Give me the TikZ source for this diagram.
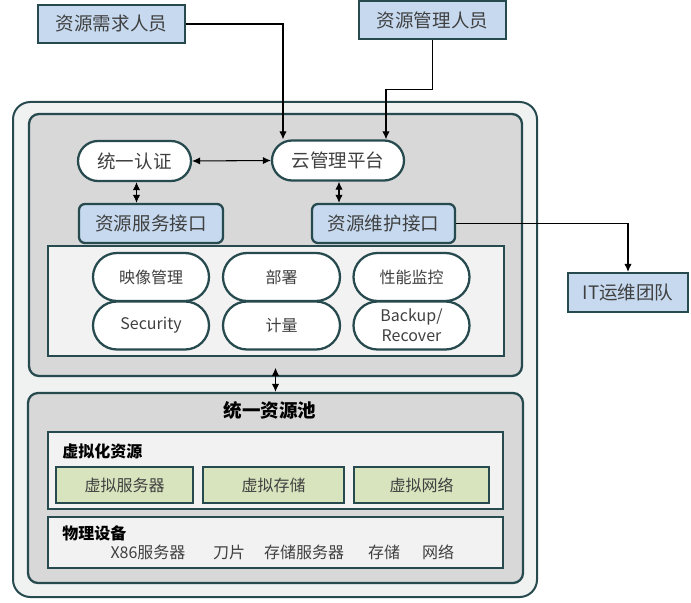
\documentclass[tikz,border=0pt]{standalone}
\usepackage{fontspec}
\setmainfont{Noto Sans CJK SC}
\usetikzlibrary{arrows.meta,shapes.misc}
\definecolor{bd}{HTML}{264A4E}
\definecolor{outerfill}{HTML}{F0F2F2}
\definecolor{panelfill}{HTML}{D8D8D8}
\definecolor{innerfill}{HTML}{F2F2F2}
\definecolor{bluefill}{HTML}{C6D9EF}
\definecolor{greenfill}{HTML}{D8E4BD}
\definecolor{txt}{HTML}{404040}
\begin{document}
\begin{tikzpicture}[x=0.75pt,y=-0.75pt,
  wh/.style 2 args={minimum width=#1*0.75pt, minimum height=#2*0.75pt},
  big/.style={font=\fontsize{13.9pt}{16pt}\selectfont},
  small/.style={font=\fontsize{12pt}{15pt}\selectfont},
  bluebox/.style={draw=bd, line width=1.7pt, fill=bluefill, inner sep=0pt, text=txt, big},
  bluerbox/.style={bluebox, rounded corners=4.5pt},
  pill/.style={draw=bd, line width=1.7pt, fill=white, rounded rectangle, inner sep=0pt, text=txt},
  panel/.style={draw=bd, line width=1.7pt, fill=panelfill, rounded corners=7.5pt, inner sep=0pt},
  inner/.style={draw=bd, line width=1.7pt, fill=innerfill, inner sep=0pt},
  greenbox/.style={draw=bd, line width=1.7pt, fill=greenfill, inner sep=0pt, text=txt, small},
  arr/.style={-{Latex[length=6pt,width=5.5pt]}, line width=0.8pt},
  darr/.style={{Latex[length=6pt,width=5.5pt]}-{Latex[length=6pt,width=5.5pt]}, line width=0.8pt},
  lbl/.style={small, text=txt, inner sep=0pt}
]
\useasboundingbox (0,0) rectangle (691,602);

% containers
\node[draw=bd, line width=1.5pt, fill=outerfill, rounded corners=13pt, wh={524}{495}, inner sep=0pt] (outer) at (275,349.5) {};
\node[panel, wh={493}{262}] (upper) at (275.5,245) {};
\node[inner, wh={456}{110}] (innerp) at (276,301) {};
\node[panel, wh={495}{190}] (lower) at (275.5,488) {};
\node[inner, wh={455}{77}] (virt) at (275.5,470.5) {};
\node[inner, wh={455}{51}] (phys) at (275.5,542.5) {};

% top actors
\node[bluebox, wh={147}{38}] (req) at (111.5,24) {资源需求人员};
\node[bluebox, wh={147}{38}] (mgr) at (432.5,20) {资源管理人员};
\node[bluebox, wh={120}{39}] (it) at (628,292.5) {IT运维团队};

% upper panel content
\node[pill, big, wh={113}{40}] (auth) at (134.5,161) {统一认证};
\node[pill, big, wh={132}{40}] (cmp) at (338,160.5) {云管理平台};
\node[bluerbox, wh={144}{39}] (svc) at (151,223.5) {资源服务接口};
\node[bluerbox, wh={143}{39}] (mnt) at (383.5,223.5) {资源维护接口};

\node[pill, small, wh={116}{48}] (p11) at (151,277) {映像管理};
\node[pill, small, wh={117}{48}] (p12) at (281.5,277) {部署};
\node[pill, small, wh={116}{48}] (p13) at (411.5,277) {性能监控};
\node[pill, small, wh={116}{48}] (p21) at (151,325.5) {Security};
\node[pill, small, wh={117}{48}] (p22) at (281.5,325.5) {计量};
\node[pill, small, wh={116}{48}, align=center] (p23) at (411.5,325.5) {Backup/\\Recover};

% lower panel content
\node[font=\fontsize{13.9pt}{16pt}\selectfont\bfseries, inner sep=0pt] (pool) at (270,410) {统一资源池};
\node[font=\fontsize{12pt}{15pt}\selectfont\bfseries, anchor=west, inner sep=0pt] (vlab) at (62,451) {虚拟化资源};
\node[greenbox, wh={137}{36}] (vs) at (124.5,485) {虚拟服务器};
\node[greenbox, wh={141}{36}] (vst) at (273.5,485) {虚拟存储};
\node[greenbox, wh={135}{36}] (vn) at (421.5,485) {虚拟网络};
\node[font=\fontsize{12pt}{15pt}\selectfont\bfseries, anchor=west, inner sep=0pt] (plab) at (62,533) {物理设备};
\node[lbl] (x86) at (148,552) {X86服务器};
\node[lbl] (blade) at (229,552) {刀片};
\node[lbl] (ss) at (304,552) {存储服务器};
\node[lbl] (st) at (384,552) {存储};
\node[lbl] (nw) at (438,552) {网络};

% connectors
\draw[arr] (req.east) -| ([xshift=-41.25pt]cmp.north);
\draw[arr] (mgr.south) -- ++(0,49) -| ([xshift=36pt]cmp.north);
\draw[darr] (auth.east) -- (cmp.west);
\draw[darr] ([xshift=1.5pt]auth.south) -- ([xshift=1.5pt]auth.south |- svc.north);
\draw[darr] ([xshift=0.75pt]cmp.south) -- ([xshift=0.75pt]cmp.south |- mnt.north);
\draw[arr] (mnt.east) -| (it.north);
\draw[darr] ([yshift=7pt]upper.south) -- (lower.north);
\end{tikzpicture}
\end{document}
